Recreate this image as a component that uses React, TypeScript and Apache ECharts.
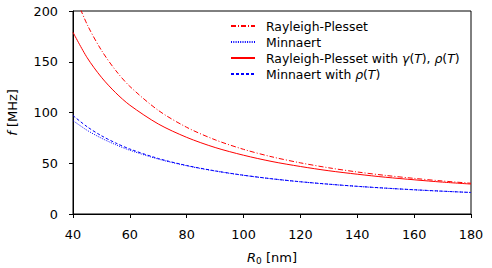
import React, { useEffect, useRef } from "react";
import * as echarts from "echarts";

// Bubble radius R0 [nm]
const radii = [40, 45, 50, 55, 60, 70, 80, 90, 100, 110, 120, 130, 140, 150, 160, 170, 180];

// Resonance frequency f [MHz]
const rayleighPlesset = [219.8, 186.6, 161.3, 141.5, 125.7, 102.1, 85.4, 73.1, 63.7, 56.3, 50.4, 45.5, 41.4, 38.0, 35.1, 32.5, 30.3];
const minnaert = [92.0, 82.4, 74.7, 68.3, 62.8, 54.1, 47.5, 42.3, 38.1, 34.6, 31.7, 29.3, 27.2, 25.4, 23.8, 22.4, 21.2];
const rayleighPlessetT = [179.0, 153.9, 134.7, 119.5, 107.2, 88.7, 75.5, 65.5, 57.9, 51.7, 46.8, 42.6, 39.2, 36.2, 33.7, 31.4, 29.5];
const minnaertT = [97.0, 85.9, 77.1, 70.0, 64.0, 54.7, 47.8, 42.5, 38.2, 34.7, 31.8, 29.4, 27.3, 25.5, 23.9, 22.5, 21.2];

const xTicks = [40, 60, 80, 100, 120, 140, 160, 180];
const yTicks = [0, 50, 100, 150, 200];

const seriesNames = [
  "Rayleigh-Plesset",
  "Minnaert",
  "Rayleigh-Plesset with γ(T), ρ(T)",
  "Minnaert with ρ(T)",
];

const legendRich: Record<string, string> = {
  "Rayleigh-Plesset": "{n|Rayleigh-Plesset}",
  Minnaert: "{n|Minnaert}",
  "Rayleigh-Plesset with γ(T), ρ(T)":
    "{n|Rayleigh-Plesset with }{i|γ}{n|(}{i|T}{n|), }{i|ρ}{n|(}{i|T}{n|)}",
  "Minnaert with ρ(T)": "{n|Minnaert with }{i|ρ}{n|(}{i|T}{n|)}",
};

const FONT = "DejaVu Sans";

export default function App() {
  const ref = useRef<HTMLDivElement>(null);

  useEffect(() => {
    document.body.style.margin = "0";
    if (!ref.current) return;
    const chart = echarts.init(ref.current, undefined, { renderer: "svg" });

    const pairs = (ys: number[]) => radii.map((r, i) => [r, ys[i]]);
    const line = (name: string, ys: number[], color: string, type: any) => ({
      name,
      type: "line",
      data: pairs(ys),
      smooth: 0.3,
      symbol: "none",
      clip: true,
      lineStyle: { color, width: 1, type },
      itemStyle: { color },
    });

    chart.setOption({
      animation: false,
      backgroundColor: "#fff",
      textStyle: { fontFamily: FONT, color: "#000" },
      grid: {
        left: 73,
        right: 21,
        top: 11,
        bottom: 54,
        containLabel: false,
        outerBoundsMode: "none",
        show: true,
        borderColor: "#000",
        borderWidth: 1,
        backgroundColor: "transparent",
      },
      xAxis: {
        type: "value",
        min: xTicks[0],
        max: xTicks[xTicks.length - 1],
        interval: 20,
        name: "{i|R}{s|0}{n| [nm]}",
        nameLocation: "middle",
        nameGap: 35,
        nameTextStyle: {
          rich: {
            i: { fontFamily: FONT, fontSize: 13, fontStyle: "italic", color: "#000" },
            s: { fontFamily: FONT, fontSize: 9, color: "#000", padding: [7, 0, 0, 0] },
            n: { fontFamily: FONT, fontSize: 13, color: "#000" },
          },
        },
        axisLine: { show: true, onZero: false, lineStyle: { color: "#000", width: 1 } },
        axisTick: { show: true, inside: false, length: 4, lineStyle: { color: "#000" } },
        axisLabel: { color: "#000", fontSize: 12.8, fontFamily: FONT, margin: 14 },
        splitLine: { show: false },
      },
      yAxis: {
        type: "value",
        min: yTicks[0],
        max: yTicks[yTicks.length - 1],
        interval: 50,
        name: "{i|f}{n| [MHz]}",
        nameLocation: "middle",
        nameGap: 54,
        nameRotate: 90,
        nameTextStyle: {
          rich: {
            i: { fontFamily: FONT, fontSize: 13, fontStyle: "italic", color: "#000" },
            n: { fontFamily: FONT, fontSize: 13, color: "#000" },
          },
        },
        axisLine: { show: true, onZero: false, lineStyle: { color: "#000", width: 1 } },
        axisTick: { show: true, inside: false, length: 4, lineStyle: { color: "#000" } },
        axisLabel: { color: "#000", fontSize: 12.8, fontFamily: FONT, margin: 15 },
        splitLine: { show: false },
      },
      legend: {
        data: seriesNames,
        orient: "vertical",
        left: 230,
        top: 20,
        itemWidth: 24,
        itemHeight: 14,
        itemGap: 4,
        padding: 0,
        itemStyle: { opacity: 0 },
        formatter: (name: string) => legendRich[name] ?? name,
        textStyle: {
          padding: [0, 0, 0, 6],
          rich: {
            n: { fontFamily: FONT, fontSize: 12.4, lineHeight: 15, color: "#000" },
            i: { fontFamily: FONT, fontSize: 12.4, lineHeight: 15, fontStyle: "italic", color: "#000" },
          },
        },
      },
      series: [
        line(seriesNames[0], rayleighPlesset, "#ff0000", [5, 2, 1, 2]),
        line(seriesNames[1], minnaert, "#0000ff", [1, 1.3]),
        line(seriesNames[2], rayleighPlessetT, "#ff0000", "solid"),
        line(seriesNames[3], minnaertT, "#0000ff", [3, 2]),
      ],
    });

    return () => chart.dispose();
  }, []);

  return <div ref={ref} style={{ width: 492, height: 268 }} />;
}
